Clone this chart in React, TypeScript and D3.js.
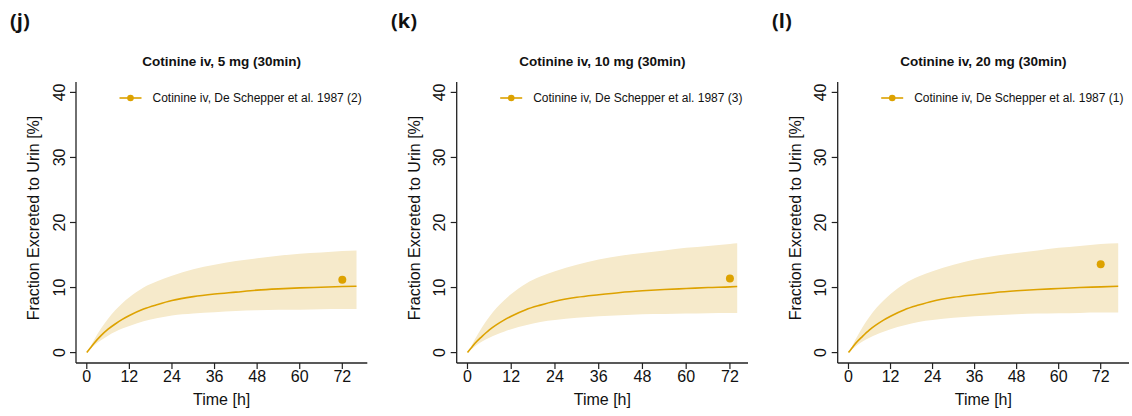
import React from "react";
import * as d3 from "d3";

// ---- data ----
const panelLabels = ["(j)", "(k)", "(l)"];
const panelTitles = [
  "Cotinine iv, 5 mg (30min)",
  "Cotinine iv, 10 mg (30min)",
  "Cotinine iv, 20 mg (30min)",
];
const legendLabels = [
  "Cotinine iv, De Schepper et al. 1987 (2)",
  "Cotinine iv, De Schepper et al. 1987 (3)",
  "Cotinine iv, De Schepper et al. 1987 (1)",
];

const timeJ = [0, 1, 2, 4, 6, 8, 10, 12, 16, 20, 24, 30, 36, 42, 48, 54, 60, 66, 72, 76];
const timeK = [0, 1, 2, 4, 6, 8, 10, 12, 16, 20, 24, 30, 36, 42, 48, 54, 60, 66, 72, 74];
const timeL = [0, 1, 2, 4, 6, 8, 10, 12, 16, 20, 24, 30, 36, 42, 48, 54, 60, 66, 72, 77];

const medianJ = [0, 0.7, 1.4, 2.6, 3.6, 4.4, 5.1, 5.7, 6.7, 7.4, 8.0, 8.6, 9.0, 9.3, 9.6, 9.8, 9.95, 10.05, 10.15, 10.2];
const upperJ = [0, 0.9, 1.9, 3.7, 5.2, 6.5, 7.6, 8.5, 10.0, 11.0, 11.8, 12.8, 13.5, 14.1, 14.5, 14.9, 15.2, 15.4, 15.6, 15.7];
const lowerJ = [0, 0.55, 1.05, 1.9, 2.6, 3.2, 3.7, 4.1, 4.8, 5.3, 5.7, 6.0, 6.2, 6.4, 6.5, 6.6, 6.6, 6.65, 6.7, 6.7];

const medianK = [0, 0.7, 1.4, 2.5, 3.5, 4.3, 5.0, 5.6, 6.6, 7.3, 7.9, 8.5, 8.9, 9.25, 9.5, 9.7, 9.85, 10.0, 10.1, 10.15];
const upperK = [0, 0.95, 2.0, 3.9, 5.5, 6.9, 8.0, 9.0, 10.6, 11.7, 12.5, 13.5, 14.3, 14.9, 15.3, 15.7, 16.1, 16.4, 16.7, 16.8];
const lowerK = [0, 0.5, 0.95, 1.7, 2.3, 2.8, 3.2, 3.6, 4.2, 4.7, 5.0, 5.35, 5.6, 5.75, 5.9, 5.95, 6.0, 6.05, 6.1, 6.1];

const medianL = [0, 0.7, 1.4, 2.5, 3.5, 4.3, 5.0, 5.6, 6.6, 7.3, 7.9, 8.5, 8.9, 9.25, 9.5, 9.7, 9.85, 10.0, 10.1, 10.2];
const upperL = [0, 0.95, 2.0, 3.9, 5.5, 6.9, 8.0, 9.0, 10.6, 11.7, 12.5, 13.5, 14.3, 14.9, 15.3, 15.7, 16.1, 16.4, 16.7, 16.8];
const lowerL = [0, 0.5, 0.95, 1.7, 2.3, 2.8, 3.2, 3.6, 4.2, 4.7, 5.0, 5.35, 5.6, 5.75, 5.9, 6.0, 6.05, 6.1, 6.15, 6.15];

const obsTime = [72, 72, 72];
const obsValue = [11.2, 11.4, 13.6];

const xTicks = [0, 12, 24, 36, 48, 60, 72];
const yTicks = [0, 10, 20, 30, 40];

const times = [timeJ, timeK, timeL];
const medians = [medianJ, medianK, medianL];
const uppers = [upperJ, upperK, upperL];
const lowers = [lowerJ, lowerK, lowerL];

// ---- styling ----
const W = 1132;
const H = 416;
const LINE = "#DDA200";
const BAND = "#F6EACB";
const AXIS = "#222";
const FONT = "'Liberation Sans', Arial, Helvetica, sans-serif";

const panelX0 = [76, 456.7, 837.7];
const labelX = [10, 391, 772];
const plotW = 291.3;
const yTop = 82;
const yBottom = 363;

function Panel({ i }: { i: number }) {
  const t = times[i];
  const tEnd = t[t.length - 1];
  const x0 = panelX0[i];
  const x = d3.scaleLinear().domain([-0.04 * tEnd, 1.04 * tEnd]).range([x0, x0 + plotW]);
  const y = d3.scaleLinear().domain([-1.6, 41.6]).range([yBottom, yTop]);

  const rows = t.map((tt, k) => ({ t: tt, m: medians[i][k], lo: lowers[i][k], hi: uppers[i][k] }));
  const area = d3
    .area<any>()
    .x((d) => x(d.t))
    .y0((d) => y(d.lo))
    .y1((d) => y(d.hi))
    .curve(d3.curveMonotoneX);
  const line = d3
    .line<any>()
    .x((d) => x(d.t))
    .y((d) => y(d.m))
    .curve(d3.curveMonotoneX);

  const cx = x0 + plotW / 2;
  const legX = x0 + 43.5;
  const legY = 98;

  return (
    <g>
      <text x={labelX[i]} y={28} fontFamily="'Open Sans', sans-serif" fontWeight={700} fontSize={20} fill="#111">
        {panelLabels[i]}
      </text>
      <text x={cx} y={66} textAnchor="middle" fontFamily={FONT} fontWeight={700} fontSize={13.5} fill="#111">
        {panelTitles[i]}
      </text>
      <path d={area(rows) || ""} fill={BAND} stroke="none" />
      <path d={line(rows) || ""} fill="none" stroke={LINE} strokeWidth={1.6} />
      <circle cx={x(obsTime[i])} cy={y(obsValue[i])} r={4} fill={LINE} />
      {/* axes */}
      <line x1={x0} x2={x0} y1={yTop} y2={yBottom} stroke={AXIS} strokeWidth={1.3} />
      <line x1={x0} x2={x0 + plotW} y1={yBottom} y2={yBottom} stroke={AXIS} strokeWidth={1.3} />
      {yTicks.map((v) => (
        <g key={"y" + v}>
          <line x1={x0 - 6} x2={x0} y1={y(v)} y2={y(v)} stroke={AXIS} strokeWidth={1.2} />
          <text
            transform={`translate(${x0 - 11.5},${y(v)}) rotate(-90)`}
            textAnchor="middle"
            fontFamily={FONT}
            fontSize={16}
            fill="#111"
          >
            {v}
          </text>
        </g>
      ))}
      {xTicks.map((v) => (
        <g key={"x" + v}>
          <line x1={x(v)} x2={x(v)} y1={yBottom} y2={yBottom + 6} stroke={AXIS} strokeWidth={1.2} />
          <text x={x(v)} y={381.5} textAnchor="middle" fontFamily={FONT} fontSize={16} fill="#111">
            {v}
          </text>
        </g>
      ))}
      <text x={cx} y={405} textAnchor="middle" fontFamily={FONT} fontSize={16} fill="#111">
        Time [h]
      </text>
      <text
        transform={`translate(${x0 - 37},218) rotate(-90)`}
        textAnchor="middle"
        fontFamily={FONT}
        fontSize={16}
        fill="#111"
      >
        Fraction Excreted to Urin [%]
      </text>
      {/* legend */}
      <line x1={legX} x2={legX + 22} y1={legY} y2={legY} stroke={LINE} strokeWidth={1.6} />
      <circle cx={legX + 11} cy={legY} r={3.3} fill={LINE} />
      <text x={legX + 33} y={legY + 4.3} fontFamily={FONT} fontSize={12} fill="#111">
        {legendLabels[i]}
      </text>
    </g>
  );
}

export default function App() {
  return (
    <svg width={W} height={H} style={{ display: "block", position: "absolute", left: 0, top: 0, background: "#fff" }}>
      <rect width={W} height={H} fill="#fff" />
      {[0, 1, 2].map((i) => (
        <Panel key={i} i={i} />
      ))}
    </svg>
  );
}
